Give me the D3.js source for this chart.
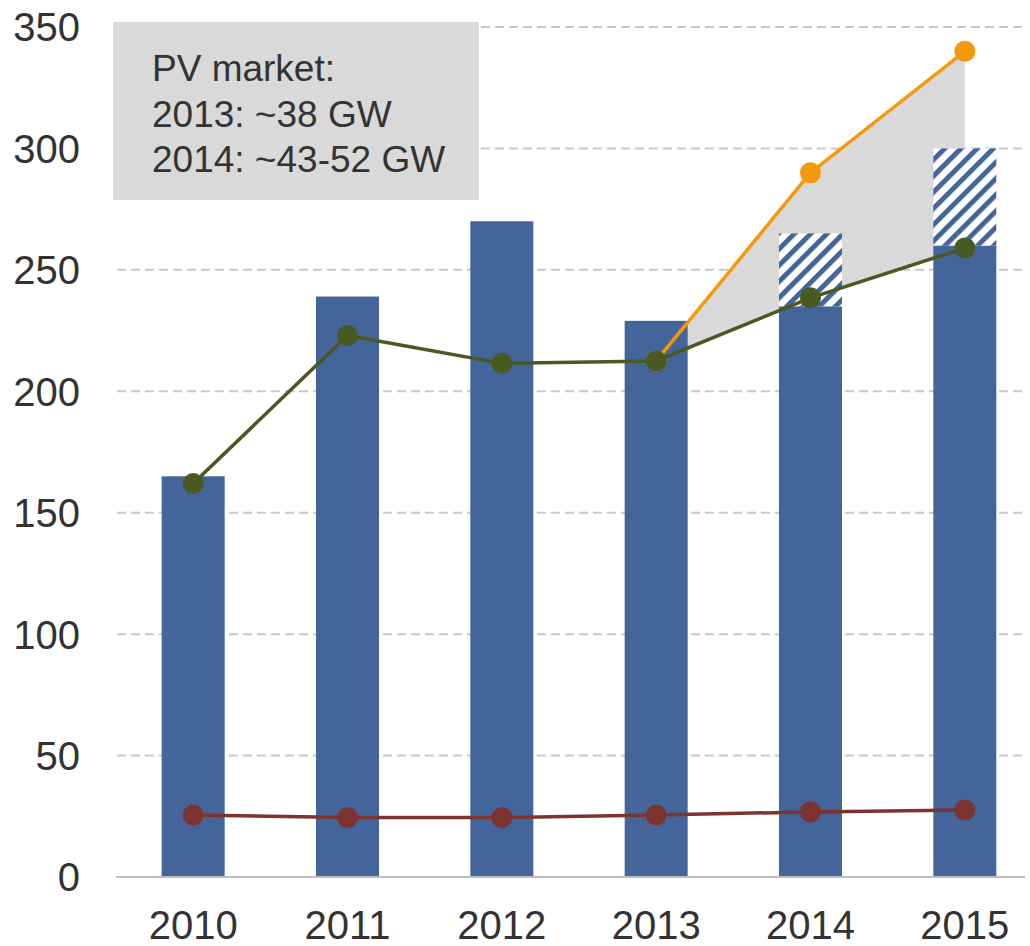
<!DOCTYPE html>
<html>
<head>
<meta charset="utf-8">
<script src="https://cdn.jsdelivr.net/npm/d3@7"></script>
<style>
  body { margin: 0; background: #fff; }
  text { font-family: "Liberation Sans", Arial, sans-serif; fill: #333; }
</style>
</head>
<body>
<script>
const width = 1030;
const height = 946;

// data
const years = ["2010", "2011", "2012", "2013", "2014", "2015"];
const barBase = [165, 239, 270, 229, 235, 260];
const barExtraTop = [null, null, null, null, 265, 300];
const green = [162, 223, 211.5, 212.5, 238.5, 259];
const red = [25.5, 24.5, 24.5, 25.5, 26.8, 27.6];
const orangeYears = ["2013", "2014", "2015"];
const orange = [212.5, 290, 340];
const yTicks = [0, 50, 100, 150, 200, 250, 300, 350];
const legendLines = ["PV market:", "2013: ~38 GW", "2014: ~43-52 GW"];

const colBar = "#44659a";
const colGreen = "#485a21";
const colRed = "#7d3430";
const colOrange = "#f4990a";

const x = d3.scaleBand().domain(years).range([116, 1042]).padding(0);
const cx = d => x(d) + x.bandwidth() / 2;
const barW = 63;
const y = d3.scaleLinear().domain([0, 350]).range([877, 27]);

const svg = d3.select("body").append("svg")
  .attr("width", width)
  .attr("height", height);

// hatch pattern
const defs = svg.append("defs");
const pat = defs.append("pattern")
  .attr("id", "hatch")
  .attr("patternUnits", "userSpaceOnUse")
  .attr("width", 11.5)
  .attr("height", 11.5)
  .attr("patternTransform", "rotate(45)");
pat.append("rect").attr("width", 11.5).attr("height", 11.5).attr("fill", "#fff");
pat.append("rect").attr("width", 5).attr("height", 11.5).attr("fill", colBar);

// gridlines
svg.append("g")
  .selectAll("line")
  .data(yTicks.filter(t => t > 0))
  .join("line")
  .attr("x1", 117).attr("x2", 1025)
  .attr("y1", d => y(d)).attr("y2", d => y(d))
  .attr("stroke", "#c8c8c8")
  .attr("stroke-width", 2)
  .attr("stroke-dasharray", "9,5");

// y labels
svg.append("g")
  .selectAll("text")
  .data(yTicks)
  .join("text")
  .attr("x", 80)
  .attr("y", d => y(d))
  .attr("dy", "0.36em")
  .attr("text-anchor", "end")
  .attr("font-size", 40)
  .text(d => d);

// grey range area between green and orange
const areaData = orangeYears.map((yr, i) => ({ yr, lo: green[years.indexOf(yr)], hi: orange[i] }));
svg.append("path")
  .datum(areaData)
  .attr("fill", "#d9d9d9")
  .attr("d", d3.area().x(d => cx(d.yr)).y0(d => y(d.lo)).y1(d => y(d.hi)));

// bars
svg.append("g")
  .selectAll("rect")
  .data(years)
  .join("rect")
  .attr("x", d => cx(d) - barW / 2)
  .attr("width", barW)
  .attr("y", (d, i) => y(barBase[i]))
  .attr("height", (d, i) => y(0) - y(barBase[i]))
  .attr("fill", colBar);

// hatched extension
svg.append("g")
  .selectAll("rect")
  .data(years.filter((d, i) => barExtraTop[i] != null))
  .join("rect")
  .attr("x", d => cx(d) - barW / 2)
  .attr("width", barW)
  .attr("y", d => y(barExtraTop[years.indexOf(d)]))
  .attr("height", d => y(barBase[years.indexOf(d)]) - y(barExtraTop[years.indexOf(d)]))
  .attr("fill", "url(#hatch)");

// x axis line
svg.append("line")
  .attr("x1", 116).attr("x2", 1025)
  .attr("y1", y(0)).attr("y2", y(0))
  .attr("stroke", "#bfbfbf")
  .attr("stroke-width", 2);

// x labels
svg.append("g")
  .selectAll("text")
  .data(years)
  .join("text")
  .attr("x", d => cx(d))
  .attr("y", 939)
  .attr("text-anchor", "middle")
  .attr("font-size", 40)
  .text(d => d);

// lines with markers
function drawSeries(xs, vals, col) {
  const pts = xs.map((yr, i) => [cx(yr), y(vals[i])]);
  svg.append("path")
    .attr("d", d3.line()(pts))
    .attr("fill", "none")
    .attr("stroke", col)
    .attr("stroke-width", 3.5);
  svg.append("g")
    .selectAll("circle")
    .data(pts)
    .join("circle")
    .attr("cx", d => d[0])
    .attr("cy", d => d[1])
    .attr("r", 10.5)
    .attr("fill", col);
}
drawSeries(orangeYears, orange, colOrange);
drawSeries(years, green, colGreen);
drawSeries(years, red, colRed);

// legend box
svg.append("rect")
  .attr("x", 113).attr("y", 22)
  .attr("width", 366).attr("height", 178)
  .attr("fill", "#d9d9d9");
svg.append("g")
  .selectAll("text")
  .data(legendLines)
  .join("text")
  .attr("x", 152)
  .attr("y", (d, i) => 81 + i * 45.5)
  .attr("font-size", 37)
  .text(d => d);
</script>
</body>
</html>
